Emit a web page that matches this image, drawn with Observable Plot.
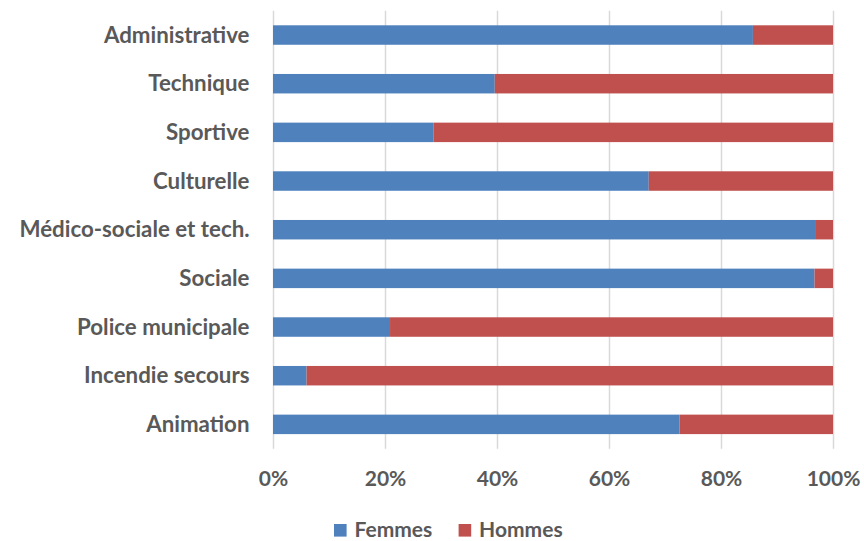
<!DOCTYPE html>
<html>
<head>
<meta charset="utf-8">
<script src="https://cdn.jsdelivr.net/npm/d3@7"></script>
<script src="https://cdn.jsdelivr.net/npm/@observablehq/plot@0.6"></script>
<style>
  body { margin: 0; background: #fff; font-family: Lato, "Open Sans", sans-serif; }
  #wrap { position: relative; width: 864px; height: 541px; overflow: hidden; }
  #chart { position: absolute; left: 0; top: 0; }
  #legend { position: absolute; left: 0; top: 516px; }
</style>
</head>
<body>
<div id="wrap"><div id="chart"></div><svg id="legend" width="864" height="25"></svg></div>
<script>
const categories = ["Administrative", "Technique", "Sportive", "Culturelle", "Médico-sociale et tech.", "Sociale", "Police municipale", "Incendie secours", "Animation"];
const femmes = [85.7, 39.6, 28.7, 67.1, 96.8, 96.7, 20.9, 6.0, 72.6];
const hommes = femmes.map(v => +(100 - v).toFixed(1));
const seriesNames = ["Femmes", "Hommes"];
const seriesColors = ["#4F81BD", "#C0504D"];
const xTicks = [0, 20, 40, 60, 80, 100];

const rows = [];
categories.forEach((c, i) => {
  rows.push({cat: c, serie: "Femmes", value: femmes[i]});
  rows.push({cat: c, serie: "Hommes", value: hommes[i]});
});

const chart = Plot.plot({
  width: 864,
  height: 516,
  marginLeft: 273,
  marginRight: 31,
  marginTop: 10.7,
  marginBottom: 67.3,
  style: { fontFamily: "Lato, 'Open Sans', sans-serif", fontWeight: "bold", color: "#595959", background: "#fff" },
  x: { domain: [0, 100], ticks: xTicks, tickFormat: d => d + "%", label: null },
  y: { domain: categories, paddingInner: 0.6, paddingOuter: 0.3, round: false, label: null },
  color: { domain: seriesNames, range: seriesColors },
  marks: [
    Plot.gridX(xTicks, { stroke: "#d9d9d9", strokeOpacity: 1, strokeWidth: 1.5 }),
    Plot.barX(rows, Plot.stackX({ y: "cat", x: "value", fill: "serie", order: seriesNames })),
    Plot.axisX({ ticks: xTicks, tickFormat: d => d + "%", tickSize: 0, tickPadding: 22, fontSize: 21, fill: "#595959", label: null }),
    Plot.axisY({ tickSize: 0, tickPadding: 24, fontSize: 22.3, fill: "#595959", label: null })
  ]
});
document.getElementById("chart").appendChild(chart);

// Legend below the chart
const legend = d3.select("#legend");
const legendX = [334, 458.6];
seriesNames.forEach((s, i) => {
  legend.append("rect").attr("x", legendX[i]).attr("y", 8).attr("width", 12.6).attr("height", 12.6).attr("fill", seriesColors[i]);
  legend.append("text").attr("x", legendX[i] + 20.5).attr("y", 20.5)
    .attr("font-family", "Lato, 'Open Sans', sans-serif").attr("font-weight", "bold")
    .attr("font-size", 21).attr("fill", "#595959").text(s);
});
</script>
</body>
</html>
